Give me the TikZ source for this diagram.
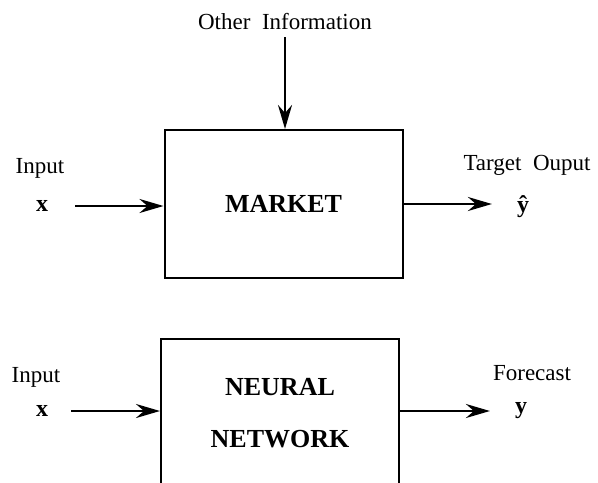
\documentclass[tikz,border=0pt]{standalone}
\usepackage{fontspec}
\setmainfont{Liberation Serif}
\usetikzlibrary{arrows.meta,positioning}
\begin{document}
\begin{tikzpicture}[
		x=0.5pt, y=-0.5pt,
		every node/.style={font=\fontsize{11.5}{13}\selectfont},
		block/.style={rectangle, draw, line width=1pt, minimum width=119pt, minimum height=74pt,
			align=center, font=\fontsize{13}{26}\bfseries\selectfont},
		var/.style={font=\fontsize{12}{14}\bfseries\selectfont},
		flow/.style={-{Stealth[length=12pt,width=7pt,inset=4pt]}, line width=1.4pt}
	]
	\useasboundingbox (0,0) rectangle (598,482);

	% market
	\node[block] (market) at (283.5,204) {MARKET};
	\node (other) at (285,22) {Other\ \ Information};
	\node[var] (xin) at (42,206) {x};
	\node (inlabel) at (40,168) {Input};
	\node[var] (yhat) at (523,207) {\^{y}};
	\node (target) at (527,165) {Target\ \ Ouput};

	\draw[flow] (other.south) -- (other.south |- market.north);
	\draw[flow, shorten <=10pt] (xin.east) -- (xin.east -| market.west);
	\draw[flow, shorten >=9pt] (market.east) -- (market.east -| yhat.west);

	% neural network
	\node[block] (network) at (280,413) {NEURAL\\NETWORK};
	\node[var] (xnet) at (42,411) {x};
	\node (innet) at (36,377) {Input};
	\node[var] (ynet) at (521,411) {y};
	\node (forecast) at (532,373) {Forecast};

	\draw[flow, shorten <=8pt] (xnet.east) -- (xnet.east -| network.west);
	\draw[flow, shorten >=9pt] (xnet.east -| network.east) -- (xnet.east -| ynet.west);
\end{tikzpicture}
\end{document}
